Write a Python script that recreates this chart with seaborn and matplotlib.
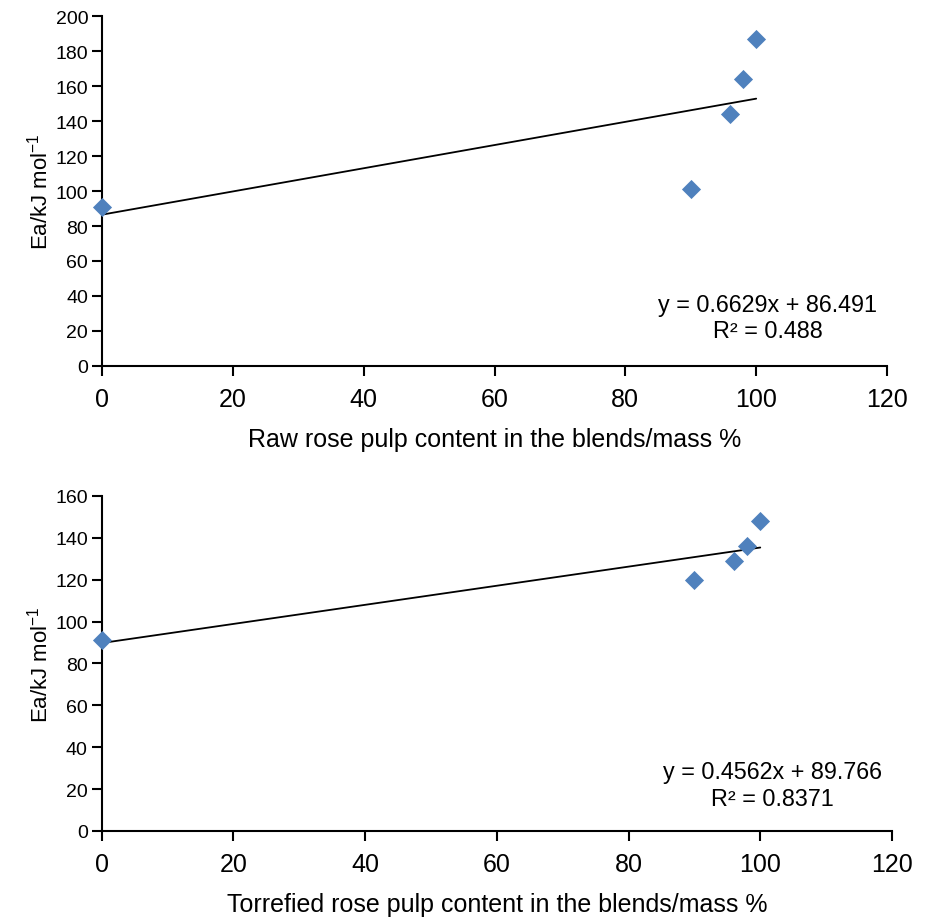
import numpy as np
import pandas as pd
import matplotlib
matplotlib.use("Agg")
import matplotlib.pyplot as plt
import seaborn as sns

# rose pulp content in blends (mass %)
content = [0, 90, 96, 98, 100]
# activation energy, kJ/mol
ea_raw = [91, 101, 144, 164, 187]
ea_torrefied = [91, 120, 129, 136, 148]

raw_eq = "y = 0.6629x + 86.491\nR² = 0.488"
torr_eq = "y = 0.4562x + 89.766\nR² = 0.8371"

sns.set_style("ticks")
plt.rcParams['font.family'] = ['Liberation Sans', 'DejaVu Sans']
plt.rcParams['mathtext.fontset'] = 'custom'
plt.rcParams['mathtext.rm'] = 'Liberation Sans'
plt.rcParams['mathtext.it'] = 'Liberation Sans'
for k in ['text.color', 'axes.labelcolor', 'xtick.color', 'ytick.color',
          'axes.edgecolor']:
    plt.rcParams[k] = 'black'

MARKER_COLOR = '#4F81BD'


def draw_panel(ax, y, ymax, xlabel, eq_text, eq_y):
    df = pd.DataFrame({'x': content, 'y': y})
    sns.regplot(data=df, x='x', y='y', ax=ax, ci=None, marker='D',
                scatter_kws={'s': 95, 'color': MARKER_COLOR, 'alpha': 1,
                             'linewidths': 0, 'zorder': 3},
                line_kws={'color': 'black', 'lw': 1.3, 'zorder': 2})
    ax.set_xlim(0, 120)
    ax.set_ylim(0, ymax)
    ax.set_xticks(np.arange(0, 121, 20))
    ax.set_yticks(np.arange(0, ymax + 1, 20))
    ax.tick_params(axis='x', labelsize=18, length=7, width=1.5, pad=8)
    ax.tick_params(axis='y', labelsize=14, length=7, width=1.5, pad=3)
    for s in ['left', 'bottom']:
        ax.spines[s].set_linewidth(1.5)
    sns.despine(ax=ax)
    ax.spines['left'].set_zorder(1)
    ax.set_xlabel(xlabel, fontsize=18, labelpad=12)
    ax.set_ylabel(r'Ea/kJ mol$^{-1}$', fontsize=16, labelpad=2)
    ax.text(101.8, eq_y, eq_text, fontsize=16.8, ha='center', va='center',
            linespacing=1.2)
    for c in ax.collections:
        c.set_clip_on(False)


fig = plt.figure(figsize=(9.3, 9.2), dpi=100)
ax1 = fig.add_axes([0.1097, 0.6011, 0.8441, 0.3804])
ax2 = fig.add_axes([0.1094, 0.0957, 0.8497, 0.3641])

draw_panel(ax1, ea_raw, 200, 'Raw rose pulp content in the blends/mass %', raw_eq, 27.7)
draw_panel(ax2, ea_torrefied, 160, 'Torrefied rose pulp content in the blends/mass %', torr_eq, 22)

fig.savefig('out.png', dpi=100)
